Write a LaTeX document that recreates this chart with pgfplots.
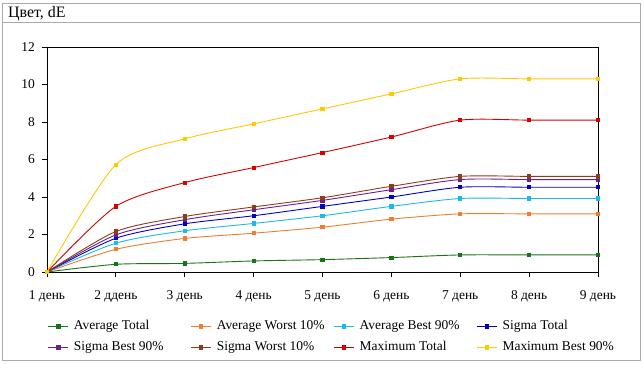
\documentclass[border=0pt]{standalone}
\usepackage{fontspec}
\setmainfont{Liberation Serif}
\usepackage{pgfplots}
\pgfplotsset{compat=1.18}
\definecolor{cGreen}{RGB}{25,115,25}
\definecolor{cOrange}{RGB}{237,125,49}
\definecolor{cCyan}{RGB}{30,185,235}
\definecolor{cBlue}{RGB}{0,0,200}
\definecolor{cPurple}{RGB}{112,30,140}
\definecolor{cBrown}{RGB}{140,62,25}
\definecolor{cRed}{RGB}{215,0,0}
\definecolor{cYellow}{RGB}{255,200,0}
\definecolor{cBorder}{RGB}{170,170,170}
\begin{document}
\begin{tikzpicture}
\fill[white] (-47bp,-93bp) rectangle (597bp,272bp);
\begin{axis}[
  scale only axis,
  width=551bp, height=225bp,
  xmin=1, xmax=9, ymin=0, ymax=12,
  xtick={1,...,9},
  xticklabels={1 день,2 ддень,3 день,4 день,5 день,6 день,7 день,8 день,9 день},
  ytick={0,2,...,12},
  xtick pos=left, ytick pos=left,
  tick align=outside,
  major tick length=5bp,
  tick style={black, line width=0.8bp},
  axis line style={black, line width=0.9bp},
  font=\fontsize{13.5}{16}\selectfont,
  /pgf/number format/assume math mode=true,
  yticklabel style={inner sep=0pt, xshift=-7bp},
  xticklabel style={inner sep=0pt, yshift=-13bp},
  every axis plot/.append style={smooth, tension=0.45, line width=0.9bp, mark=square*, mark size=1.6bp},
  legend columns=4,
  legend style={draw=none, fill=none, at={(axis description cs:0.0018,-0.2133)}, anchor=north west,
    inner sep=0pt, outer sep=0pt, row sep=8bp,
    nodes={inner sep=0pt, text height=10bp, text depth=3bp},
    /tikz/every odd column/.style={column sep=5bp},
    /tikz/every even column/.style={column sep=0bp}},
  legend image code/.code={\draw[mark repeat=2,mark phase=2,#1] plot coordinates {(0bp,0bp) (10bp,0bp) (20bp,0bp)};},
]
\addplot[cGreen, mark options={fill=cGreen}] coordinates {(1,0) (2,0.41) (3,0.46) (4,0.59) (5,0.66) (6,0.77) (7,0.91) (8,0.91) (9,0.91)};
\addlegendentry{\makebox[117bp][l]{Average Total}}
\addplot[cOrange, mark options={fill=cOrange}] coordinates {(1,0) (2,1.21) (3,1.79) (4,2.07) (5,2.39) (6,2.82) (7,3.1) (8,3.1) (9,3.1)};
\addlegendentry{\makebox[117bp][l]{Average Worst 10\%}}
\addplot[cCyan, mark options={fill=cCyan}] coordinates {(1,0) (2,1.54) (3,2.2) (4,2.59) (5,3.0) (6,3.5) (7,3.92) (8,3.92) (9,3.92)};
\addlegendentry{\makebox[117bp][l]{Average Best 90\%}}
\addplot[cBlue, mark options={fill=cBlue}] coordinates {(1,0) (2,1.8) (3,2.57) (4,3.0) (5,3.5) (6,4.0) (7,4.52) (8,4.52) (9,4.52)};
\addlegendentry{\makebox[117bp][l]{Sigma Total}}
\addplot[cPurple, mark options={fill=cPurple}] coordinates {(1,0) (2,1.98) (3,2.79) (4,3.32) (5,3.82) (6,4.39) (7,4.93) (8,4.93) (9,4.93)};
\addlegendentry{\makebox[117bp][l]{Sigma Best 90\%}}
\addplot[cBrown, mark options={fill=cBrown}] coordinates {(1,0) (2,2.16) (3,2.96) (4,3.47) (5,3.96) (6,4.57) (7,5.1) (8,5.1) (9,5.1)};
\addlegendentry{\makebox[117bp][l]{Sigma Worst 10\%}}
\addplot[cRed, mark options={fill=cRed}] coordinates {(1,0) (2,3.5) (3,4.77) (4,5.57) (5,6.37) (6,7.2) (7,8.1) (8,8.1) (9,8.1)};
\addlegendentry{\makebox[117bp][l]{Maximum Total}}
\addplot[cYellow, mark options={fill=cYellow}] coordinates {(1,0) (2,5.73) (3,7.1) (4,7.9) (5,8.7) (6,9.5) (7,10.3) (8,10.3) (9,10.3)};
\addlegendentry{\makebox[117bp][l]{Maximum Best 90\%}}
\end{axis}
\draw[cBorder, line width=1bp] (-44bp,-88bp) rectangle (593bp,268bp);
\draw[cBorder, line width=1bp] (-44bp,249bp) -- (593bp,249bp);
\node[anchor=west, inner sep=0pt, font=\fontsize{16}{19}\selectfont] at (-39bp,258bp) {Цвет, dE};
\end{tikzpicture}
\end{document}
